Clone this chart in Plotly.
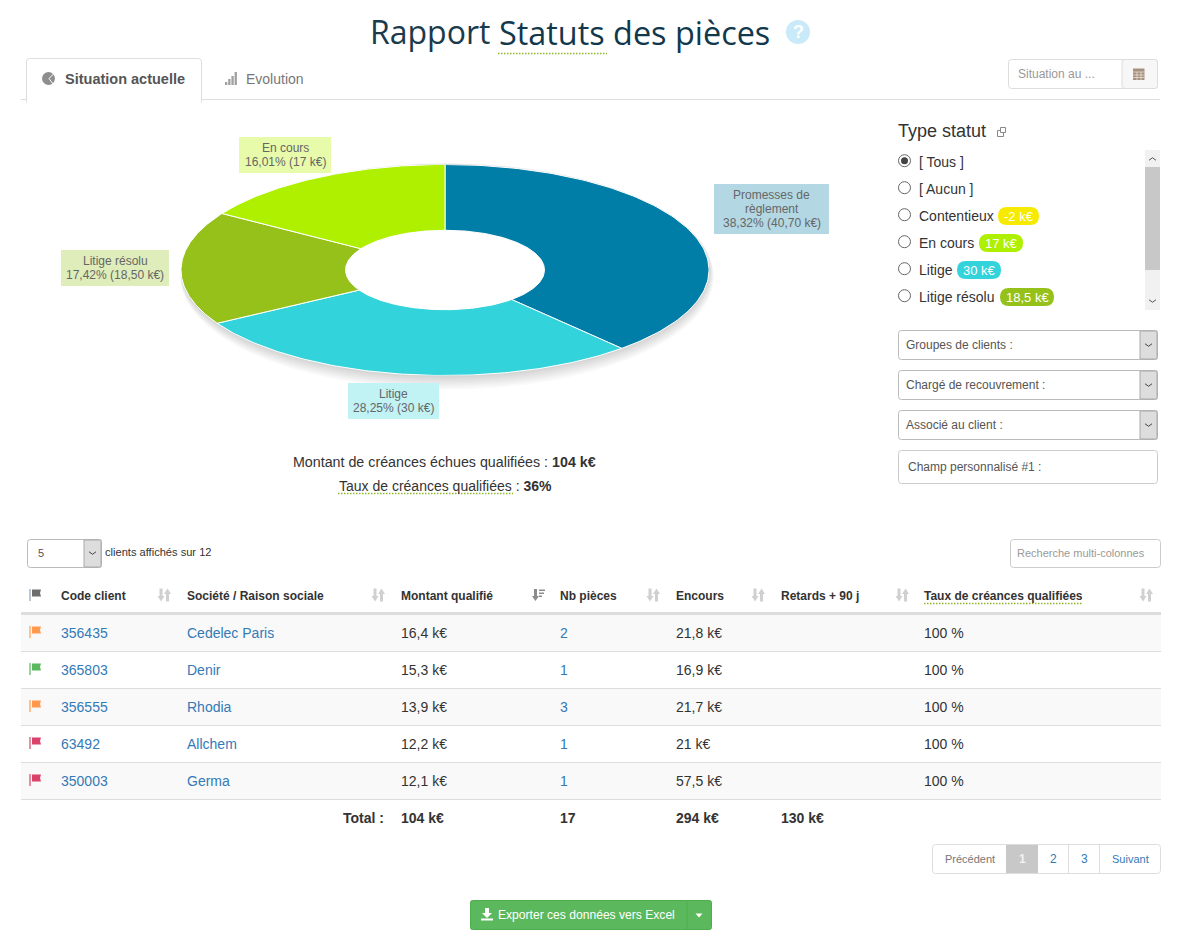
import numpy as np
import plotly.graph_objects as go

# pie
statuts = [['Promesses de', 'règlement'], ['Litige'], ['Litige résolu'], ['En cours']]
montants = [40.70, 30, 18.50, 17]
pourcents = ['38,32%', '28,25%', '17,42%', '16,01%']
montants_txt = ['40,70 k€', '30 k€', '18,50 k€', '17 k€']
couleurs = ['#007EA7', '#33D3DB', '#95C11A', '#AEF000']
fonds_labels = ['#B3D8E4', '#C1F2F4', '#DFEDBA', '#E7FBAB']

# filtre statut
radios = ['[ Tous ]', '[ Aucun ]', 'Contentieux', 'En cours', 'Litige', 'Litige résolu']
badges = [None, None, '-2 k€', '17 k€', '30 k€', '18,5 k€']
badges_couleurs = [None, None, '#F5EA00', '#AEF000', '#33D3DB', '#95C11A']

# table
entetes = ['Code client', 'Société / Raison sociale', 'Montant qualifié', 'Nb pièces',
           'Encours', 'Retards + 90 j', 'Taux de créances qualifiées']
codes = ['356435', '365803', '356555', '63492', '350003']
societes = ['Cedelec Paris', 'Denir', 'Rhodia', 'Allchem', 'Germa']
qualifies = ['16,4 k€', '15,3 k€', '13,9 k€', '12,2 k€', '12,1 k€']
nb_pieces = ['2', '1', '3', '1', '1']
encours = ['21,8 k€', '16,9 k€', '21,7 k€', '21 k€', '57,5 k€']
taux = ['100 %', '100 %', '100 %', '100 %', '100 %']
drapeaux = ['#FF9A4D', '#5CB85C', '#FF9A4D', '#D9436B', '#D9436B']
totaux = ['104 k€', '17', '294 k€', '130 k€']

SANS = 'Liberation Sans, Arial, sans-serif'
VERT = '#8DB82B'
shapes = []
annots = []


def texte(x, y, s, size=14, color='#333333', anchor='left', bold=False, font=SANS, weight=None):
    f = dict(family=font, size=size, color=color)
    if weight:
        f['weight'] = weight
    annots.append(dict(x=x-1 if anchor == 'left' else x, y=y, xref='x', yref='y',
                       text=f'<b>{s}</b>' if bold else s, showarrow=False,
                       xanchor=anchor, yanchor='middle', borderpad=0, align='center', font=f))


def rect(x0, y0, x1, y1, fill=None, line=None, width=1):
    shapes.append(dict(type='rect', xref='x', yref='y', x0=x0, y0=y0, x1=x1, y1=y1, layer='below',
                       fillcolor=fill or 'rgba(0,0,0,0)',
                       line=dict(color=line or 'rgba(0,0,0,0)', width=width if line else 0)))


def arrondi(x0, y0, x1, y1, r=3, fill='#FFFFFF', line='#CCCCCC', width=1):
    p = (f'M{x0+r},{y0} L{x1-r},{y0} Q{x1},{y0} {x1},{y0+r} L{x1},{y1-r} Q{x1},{y1} {x1-r},{y1} '
         f'L{x0+r},{y1} Q{x0},{y1} {x0},{y1-r} L{x0},{y0+r} Q{x0},{y0} {x0+r},{y0} Z')
    shapes.append(dict(type='path', xref='x', yref='y', path=p, layer='below', fillcolor=fill,
                       line=dict(color=line, width=width)))


def chemin(p, fill=None, line=None, width=1):
    shapes.append(dict(type='path', xref='x', yref='y', path=p, layer='below',
                       fillcolor=fill or 'rgba(0,0,0,0)',
                       line=dict(color=line or 'rgba(0,0,0,0)', width=width if line else 0)))


def trait(x0, y0, x1, y1, color='#DDDDDD', width=1, dash=None):
    shapes.append(dict(type='line', xref='x', yref='y', x0=x0, y0=y0, x1=x1, y1=y1, layer='below',
                       line=dict(color=color, width=width, dash=dash or 'solid')))


def pointille(x0, x1, y):
    trait(x0, y, x1, y, color=VERT, width=1.5, dash='1.5px,1.5px')


def ellipse(cx, cy, rx, ry, fill=None, line=None, width=1, opacity=1):
    shapes.append(dict(type='circle', xref='x', yref='y', x0=cx-rx, y0=cy-ry, x1=cx+rx, y1=cy+ry,
                       layer='below', fillcolor=fill or 'rgba(0,0,0,0)', opacity=opacity,
                       line=dict(color=line or 'rgba(0,0,0,0)', width=width if line else 0)))


def chevron(cx, cy, color='#555555', haut=False, w=3.5, h=2.5):
    s = -1 if haut else 1
    chemin(f'M{cx-w},{cy-s*h/2} L{cx},{cy+s*h/2} L{cx+w},{cy-s*h/2}', line=color, width=1)


def drapeau(x, y, color, mat=None):
    trait(x, y-6, x, y+6, color=mat or color, width=1.2)
    chemin(f'M{x+2},{y-5.5} L{x+11},{y-5.5} L{x+10},{y-2} L{x+11},{y+1.5} L{x+2},{y+1.5} Z', fill=color)


def tri(x, y):
    c = '#D0D0D0'
    chemin(f'M{x-5.5},{y-6.5} L{x-2.5},{y-6.5} L{x-2.5},{y+1} L{x-0.5},{y+1} L{x-4},{y+6.5} L{x-7.5},{y+1} L{x-5.5},{y+1} Z', fill=c)
    chemin(f'M{x+1},{y+6.5} L{x+4},{y+6.5} L{x+4},{y-1} L{x+6},{y-1} L{x+2.5},{y-6.5} L{x-1},{y-1} L{x+1},{y-1} Z', fill=c)


# titre
texte(370, 31.5, 'Rapport', 32, '#1B3A4B', font='Open Sans')
texte(499, 31.5, 'Statuts des pièces', 32.4, '#12384D', font='Open Sans', weight=500)
pointille(498, 607, 53.5)
ellipse(798, 32, 12, 12, fill='#C9EAF9')
texte(798, 32, '?', 18, '#FFFFFF', anchor='center', bold=True)

# onglets
trait(21, 99.5, 1160, 99.5)
arrondi(26.5, 58.5, 201.5, 104, r=3, line='#DDDDDD')
rect(27, 99, 201, 106, fill='#FFFFFF')
trait(26.5, 99, 26.5, 100, color='#DDDDDD')
ellipse(48.5, 78.5, 6.5, 6.5, fill='#8E8E8E')
chemin('M54,73.5 L49,78.5 L53,84', line='#FFFFFF', width=1)
texte(65, 79, 'Situation actuelle', 14.5, '#555555', bold=True)
for i, h in enumerate([3, 6, 9, 13]):
    rect(225+3.2*i, 85-h, 227.3+3.2*i, 85, fill='#A0A0A0')
texte(246, 79, 'Evolution', 14, '#777777')

arrondi(1008.5, 59.5, 1157.5, 88.5, fill='#FFFFFF', line='#DDDDDD')
arrondi(1122, 59.5, 1157.5, 88.5, fill='#F7F7F7', line='#DDDDDD')
texte(1018, 74, 'Situation au ...', 12, '#999999')
rect(1133, 68.5, 1144.5, 80, fill='#A58F7D')
for yy in (72, 75, 77.5):
    trait(1133, yy, 1144.5, yy, color='#F0EAE4', width=0.7)
for xx in (1137, 1141):
    trait(xx, 72, xx, 80, color='#F0EAE4', width=0.7)

# filtres
texte(898, 131, 'Type statut', 18, '#333333')
rect(997.5, 130.5, 1003.5, 136.5, line='#888888')
rect(1000.5, 127.5, 1005.5, 132.5, fill='#FFFFFF', line='#888888')
for i, (nom, badge, c) in enumerate(zip(radios, badges, badges_couleurs)):
    y = 161 + 27*i
    ellipse(904.5, y-0.3, 6, 6, fill='#FFFFFF', line='#666666', width=1)
    if i == 0:
        ellipse(904.5, y-0.3, 3.5, 3.5, fill='#444444')
    texte(919, y+1, nom, 14, '#333333')
badges_x = [(998, 1039), (979, 1023), (957, 1001), (1000, 1054)]
for i, (x0, x1) in enumerate(badges_x):
    y = 161 + 27*(i+2) + 1
    arrondi(x0, y-9, x1, y+9, r=9, fill=badges_couleurs[i+2], line=badges_couleurs[i+2], width=0)
    texte((x0+x1)/2, y, badges[i+2], 13, '#FFFFFF', anchor='center')
rect(1145, 150, 1160, 310, fill='#F1F1F1')
rect(1145, 167, 1160, 270, fill='#C8C8C8')
chevron(1152.5, 159, haut=True)
chevron(1152.5, 301)

for y0, nom in zip([330, 370, 410], ['Groupes de clients :', 'Chargé de recouvrement :', 'Associé au client :']):
    arrondi(898.5, y0+0.5, 1157.5, y0+29.5, line='#BBBBBB')
    rect(1140, y0+1, 1157, y0+29, fill='#DDDDDD', line='#AAAAAA')
    chevron(1148.5, y0+15, color='#444444')
    texte(906, y0+15, nom, 12, '#555555')
arrondi(898.5, 450.5, 1157.5, 483.5, line='#CCCCCC')
texte(908, 467, 'Champ personnalisé #1 :', 12, '#555555')

# ombre du pie
for k in range(8):
    ellipse(445+k*0.3, 270+k*0.9, 264+k*0.4, 105.5+k*1.1, fill='#000000', opacity=0.024)
ellipse(445, 270, 99.5, 40, fill='#FFFFFF')

# boites des labels
boites = [(714, 184, 829, 234), (348, 383, 439, 419), (61, 250, 169, 286), (239, 137, 331, 173)]
for i, (x0, y0, x1, y1) in enumerate(boites):
    rect(x0, y0, x1, y1, fill=fonds_labels[i])
    lignes = statuts[i] + [f'{pourcents[i]} ({montants_txt[i]})']
    y_haut = (y0+y1)/2 - 0.5 - 7*(len(lignes)-1)
    for j, lig in enumerate(lignes):
        texte((x0+x1)/2, y_haut+14*j, lig, 12, '#666666', anchor='center')

# resume
texte(444.5, 462, 'Montant de créances échues qualifiées : <b>104 k€</b>', 14.25, '#333333', anchor='center')
texte(445, 486, 'Taux de créances qualifiées : <b>36%</b>', 14, '#333333', anchor='center')
pointille(338, 513, 493.5)

# controles table
arrondi(27.5, 539.5, 101.5, 567.5, line='#BBBBBB')
rect(84, 540, 101, 567, fill='#DDDDDD', line='#AAAAAA')
chevron(92.5, 553, color='#444444')
texte(38, 553, '5', 11, '#555555')
texte(105, 552, 'clients affichés sur 12', 11.1, '#333333')
arrondi(1010.5, 539.5, 1160.5, 567.5, line='#CCCCCC')
texte(1017, 553, 'Recherche multi-colonnes', 11, '#999999')

# table
col_x = [61, 187, 401, 560, 676, 781, 924]
tri_x = [165, 379, 538, 654, 759, 903, 1147]
drapeau(30, 595, '#6E6E6E', mat='#8FA3B5')
for x, nom, t in zip(col_x, entetes, tri_x):
    texte(x, 595.5, nom, 12, '#333333', bold=True)
    if nom != 'Montant qualifié':
        tri(t, 595)
chemin('M534,589 L537,589 L537,596 L539,596 L535.5,601 L532,596 L534,596 Z', fill='#8C8C8C')
for i, w in enumerate([6, 5, 3]):
    rect(539, 589.5+3*i, 539+w, 591+3*i, fill='#8C8C8C')
pointille(924, 1083, 603.5)
rect(21, 612, 1161, 615, fill='#DDDDDD')
for i in range(5):
    y0 = 615 + 37*i
    if i % 2 == 0:
        rect(21, y0, 1161, y0+36, fill='#F9F9F9')
    trait(21, y0+36.5, 1161, y0+36.5)
    y = 633 + 37*i
    drapeau(30, y-1, drapeaux[i])
    lien = '#337AB7'
    texte(col_x[0], y, codes[i], 14, lien)
    texte(col_x[1]-0.5, y, societes[i], 14, lien)
    texte(col_x[2], y, qualifies[i], 14, '#333333')
    texte(col_x[3], y, nb_pieces[i], 14, lien)
    texte(col_x[4], y, encours[i], 14, '#333333')
    texte(col_x[6], y, taux[i], 14, '#333333')
texte(385, 818, 'Total :', 14, '#333333', anchor='right', bold=True)
for x, v in zip([401, 560, 676, 781], totaux):
    texte(x, 818, v, 14, '#333333', bold=True)

# pagination
arrondi(932.5, 844.5, 1160.5, 873.5, line='#DDDDDD')
rect(1006, 845, 1038, 873, fill='#C8C8C8')
trait(1068.5, 845, 1068.5, 873)
trait(1099.5, 845, 1099.5, 873)
texte(970, 859, 'Précédent', 11, '#777777', anchor='center')
texte(1022, 859, '1', 12, '#F2F2F2', anchor='center', bold=True)
texte(1053, 859, '2', 12, '#337AB7', anchor='center')
texte(1084, 859, '3', 12, '#337AB7', anchor='center')
texte(1130.5, 859, 'Suivant', 11, '#337AB7', anchor='center')

# export
arrondi(470.5, 900.5, 711.5, 929.5, r=2, fill='#5CB85C', line='#4CAE4C')
trait(687, 901, 687, 929, color='#4CAE4C')
chemin('M485,908 L489,908 L489,913 L492,913 L487,918 L482,913 L485,913 Z', fill='#FFFFFF')
rect(481, 918.5, 493, 920.5, fill='#FFFFFF')
texte(498, 915, 'Exporter ces données vers Excel', 12.1, '#FFFFFF')
chemin('M695.5,913.5 L702.5,913.5 L699,917.5 Z', fill='#FFFFFF')

# pie dessine dans un repere unitaire, l'ellipse vient du domaine des axes
total = sum(montants)
trou = 99.5 / 264
fig = go.Figure()
fig.add_trace(go.Scatter(x=[0, 1178], y=[0, 943], mode='markers', marker=dict(opacity=0), hoverinfo='skip'))
debut = 0.0
for m, c in zip(montants, couleurs):
    fin = debut + m / total * 2 * np.pi
    a = np.linspace(debut, fin, 120)
    xs = np.concatenate([np.sin(a), trou * np.sin(a[::-1])])
    ys = np.concatenate([np.cos(a), trou * np.cos(a[::-1])])
    fig.add_trace(go.Scatter(x=np.append(xs, xs[0]), y=np.append(ys, ys[0]), xaxis='x2', yaxis='y2',
                             mode='lines', fill='toself', fillcolor=c, cliponaxis=False,
                             line=dict(color='#FFFFFF', width=1), hoverinfo='skip'))
    debut = fin

cx, cy, rx, ry = 445, 270, 264, 105.5
fig.update_layout(
    width=1178, height=943, margin=dict(l=0, r=0, t=0, b=0), showlegend=False,
    paper_bgcolor='#FFFFFF', plot_bgcolor='rgba(0,0,0,0)',
    xaxis=dict(range=[0, 1178], visible=False, fixedrange=True),
    yaxis=dict(range=[943, 0], visible=False, fixedrange=True),
    xaxis2=dict(range=[-1, 1], visible=False, domain=[(cx-rx)/1178, (cx+rx)/1178], anchor='y2', fixedrange=True),
    yaxis2=dict(range=[-1, 1], visible=False, domain=[1-(cy+ry)/943, 1-(cy-ry)/943], anchor='x2', fixedrange=True),
    shapes=shapes, annotations=annots,
)

fig.write_html('out.html', config=dict(displayModeBar=False),
               post_script="document.body.style.margin='0';document.documentElement.style.overflow='hidden';")
